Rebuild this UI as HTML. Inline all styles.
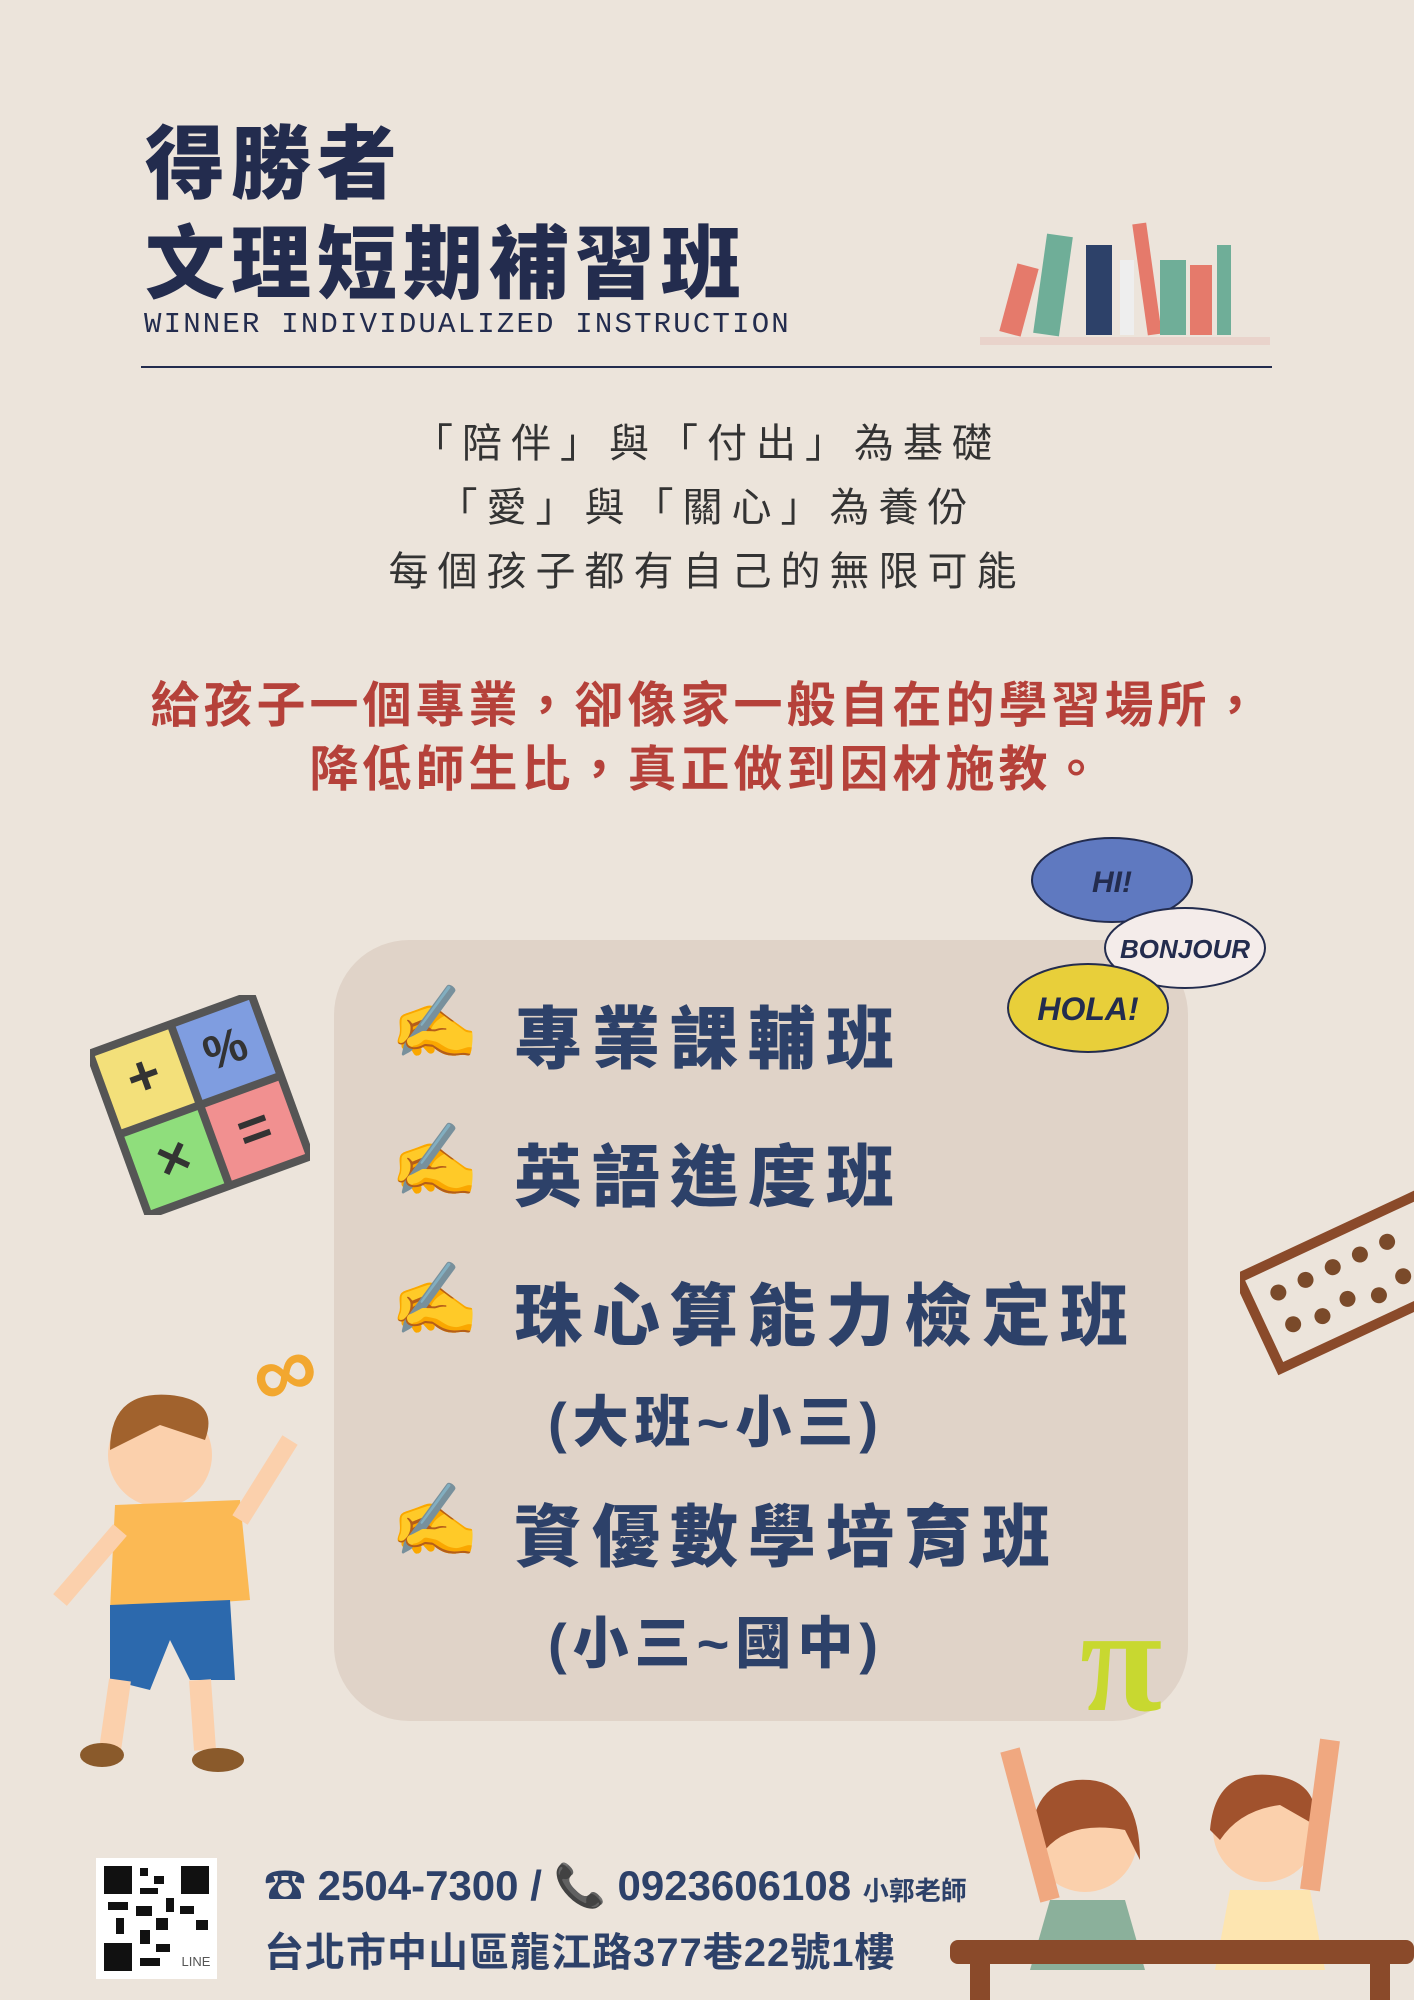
<!DOCTYPE html>
<html><head><meta charset="utf-8"><style>
*{margin:0;padding:0;box-sizing:border-box}
body{width:1414px;height:2000px;background:#ece4db;position:relative;overflow:hidden;font-family:"Liberation Sans","Noto Sans CJK TC",sans-serif}
.a{position:absolute;white-space:nowrap}
.t{color:#232c4e;font-weight:900;font-size:80px;letter-spacing:6px;left:145px}
.q{color:#333;font-size:40px;letter-spacing:9px;width:1414px;text-align:center;left:0}
.r{color:#b5413a;font-weight:700;font-size:49px;letter-spacing:4px;width:1414px;text-align:center;left:0}
.it{color:#2d4169;font-weight:900;font-size:68px;letter-spacing:10px;left:514px}
.hand{font-size:72px;left:390px}
.f{color:#2d4169;font-weight:700;font-size:40px;left:264px}
</style></head><body>
<div class="a t" style="top:100px">得勝者</div>
<div class="a t" style="top:200px">文理短期補習班</div>
<div class="a" style="left:144px;top:308px;font-family:'Liberation Mono',monospace;font-size:29px;letter-spacing:2.2px;color:#232c4e">WINNER INDIVIDUALIZED INSTRUCTION</div>
<div class="a" style="left:141px;top:366px;width:1131px;height:2px;background:#232c4e"></div>
<svg class="a" style="left:980px;top:215px" width="290" height="135">
<rect x="0" y="122" width="290" height="8" fill="#e9d3cb"/>
<rect x="28" y="50" width="22" height="70" fill="#e57a6b" transform="rotate(15 39 85)"/>
<rect x="60" y="20" width="26" height="100" fill="#6fae98" transform="rotate(8 73 70)"/>
<rect x="106" y="30" width="26" height="90" fill="#2d4169"/>
<rect x="140" y="45" width="14" height="75" fill="#eee"/>
<rect x="160" y="8" width="14" height="112" fill="#e57a6b" transform="rotate(-8 167 64)"/>
<rect x="180" y="45" width="26" height="75" fill="#6fae98"/>
<rect x="210" y="50" width="22" height="70" fill="#e57a6b"/>
<rect x="237" y="30" width="14" height="90" fill="#6fae98"/>
</svg>
<div class="a q" style="top:411px">「陪伴」與「付出」為基礎</div>
<div class="a q" style="top:475px">「愛」與「關心」為養份</div>
<div class="a q" style="top:539px">每個孩子都有自己的無限可能</div>
<div class="a r" style="top:666px">給孩子一個專業，卻像家一般自在的學習場所，</div>
<div class="a r" style="top:730px">降低師生比，真正做到因材施教。</div>
<div class="a" style="left:334px;top:940px;width:854px;height:781px;border-radius:75px;background:#e0d3c8"></div>
<div class="a hand" style="top:980px">✍️</div>
<div class="a it" style="top:984px">專業課輔班</div>
<div class="a hand" style="top:1118px">✍️</div>
<div class="a it" style="top:1122px">英語進度班</div>
<div class="a hand" style="top:1257px">✍️</div>
<div class="a it" style="top:1261px">珠心算能力檢定班</div>
<div class="a it" style="top:1378px;left:548px;font-size:56px;letter-spacing:6px">(大班~小三)</div>
<div class="a hand" style="top:1478px">✍️</div>
<div class="a it" style="top:1482px">資優數學培育班</div>
<div class="a it" style="top:1599px;left:548px;font-size:56px;letter-spacing:6px">(小三~國中)</div>
<svg class="a" style="left:1000px;top:830px" width="280" height="240">
<ellipse cx="112" cy="50" rx="80" ry="42" fill="#5f79c0" stroke="#232c4e" stroke-width="2"/>
<text x="112" y="62" font-size="30" font-weight="900" font-style="italic" fill="#232c4e" text-anchor="middle" font-family="Liberation Sans">HI!</text>
<ellipse cx="185" cy="118" rx="80" ry="40" fill="#f4ecea" stroke="#232c4e" stroke-width="2"/>
<text x="185" y="128" font-size="26" font-weight="900" font-style="italic" fill="#232c4e" text-anchor="middle" font-family="Liberation Sans">BONJOUR</text>
<ellipse cx="88" cy="178" rx="80" ry="44" fill="#e8cf3a" stroke="#232c4e" stroke-width="2"/>
<text x="88" y="190" font-size="32" font-weight="900" font-style="italic" fill="#232c4e" text-anchor="middle" font-family="Liberation Sans">HOLA!</text>
</svg>
<svg class="a" style="left:90px;top:995px" width="220" height="220">
<g transform="rotate(-20 110 110)">
<rect x="20" y="20" width="180" height="180" fill="#555"/>
<rect x="28" y="28" width="78" height="78" fill="#f3e07a"/><rect x="114" y="28" width="78" height="78" fill="#7f9de0"/>
<rect x="28" y="114" width="78" height="78" fill="#8fde7c"/><rect x="114" y="114" width="78" height="78" fill="#f19090"/>
<text x="67" y="82" font-size="56" text-anchor="middle" font-weight="900" fill="#333">+</text>
<text x="153" y="82" font-size="48" text-anchor="middle" font-weight="900" fill="#333">%</text>
<text x="67" y="170" font-size="56" text-anchor="middle" font-weight="900" fill="#333">×</text>
<text x="153" y="170" font-size="56" text-anchor="middle" font-weight="900" fill="#333">=</text></g>
</svg>
<svg class="a" style="left:1240px;top:1190px" width="174" height="190">
<g transform="rotate(-25 90 95)"><rect x="10" y="50" width="220" height="100" fill="none" stroke="#8a4a2a" stroke-width="10"/>
<g fill="#7a4a2a"><circle cx="40" cy="80" r="8"/><circle cx="70" cy="80" r="8"/><circle cx="100" cy="80" r="8"/><circle cx="130" cy="80" r="8"/><circle cx="160" cy="80" r="8"/>
<circle cx="40" cy="115" r="8"/><circle cx="70" cy="120" r="8"/><circle cx="100" cy="115" r="8"/><circle cx="130" cy="125" r="8"/><circle cx="160" cy="118" r="8"/></g></g>
</svg>
<svg class="a" style="left:40px;top:1330px" width="320" height="460">
<text x="215" y="70" font-size="90" fill="#f2a72f" font-weight="900" transform="rotate(-20 250 50)">∞</text>
<circle cx="120" cy="125" r="52" fill="#fbd0ac"/><path d="M70 120 Q70 60 130 65 Q180 70 165 110 L120 95 Z" fill="#a1622d"/>
<path d="M75 175 L200 170 L210 270 L70 280 Z" fill="#fbb954"/>
<path d="M70 275 L190 270 L195 350 L150 350 L130 310 L110 360 L70 350 Z" fill="#2c69ad"/>
<path d="M80 350 L70 420 M160 350 L165 420" stroke="#fbd0ac" stroke-width="22"/>
<ellipse cx="62" cy="425" rx="22" ry="12" fill="#8a5a2b"/><ellipse cx="178" cy="430" rx="26" ry="12" fill="#8a5a2b"/>
<path d="M200 190 L250 110 M80 200 L20 270" stroke="#fbd0ac" stroke-width="18"/>
</svg>
<svg class="a" style="left:1070px;top:1580px" width="150" height="150">
<text x="10" y="130" font-size="150" fill="#c8d830" font-weight="900" font-family="Liberation Serif">π</text>
</svg>
<svg class="a" style="left:950px;top:1720px" width="464" height="280">
<circle cx="135" cy="120" r="52" fill="#fbd0ac"/><path d="M80 130 Q80 55 140 60 Q190 65 190 140 L175 110 Q120 100 95 130 Z" fill="#a1522d"/>
<path d="M100 180 L175 180 L195 250 L80 250 Z" fill="#8bb09b"/>
<circle cx="315" cy="110" r="52" fill="#fbd0ac"/><path d="M260 110 Q265 50 320 55 Q370 60 365 105 L330 85 Q290 90 270 120 Z" fill="#a1522d"/>
<path d="M280 170 L360 170 L375 250 L265 250 Z" fill="#fde5b0"/>
<path d="M100 180 L60 30 M360 170 L380 20" stroke="#f0a880" stroke-width="20"/>
<rect x="0" y="220" width="464" height="24" rx="8" fill="#8a4a2a"/><rect x="20" y="244" width="20" height="40" fill="#8a4a2a"/><rect x="420" y="244" width="20" height="40" fill="#8a4a2a"/>
</svg>
<svg class="a" style="left:96px;top:1858px" width="121" height="121">
<rect width="121" height="121" fill="#fff"/>
<g fill="#111"><rect x="8" y="8" width="28" height="28"/><rect x="85" y="8" width="28" height="28"/><rect x="8" y="85" width="28" height="28"/>
<rect x="44" y="10" width="8" height="8"/><rect x="58" y="18" width="10" height="8"/><rect x="44" y="30" width="18" height="6"/><rect x="70" y="40" width="8" height="14"/>
<rect x="12" y="44" width="20" height="8"/><rect x="40" y="48" width="16" height="10"/><rect x="60" y="60" width="12" height="12"/><rect x="84" y="48" width="14" height="8"/>
<rect x="100" y="62" width="12" height="10"/><rect x="44" y="72" width="10" height="14"/><rect x="20" y="60" width="8" height="16"/><rect x="60" y="86" width="14" height="8"/><rect x="44" y="100" width="20" height="8"/></g>
<text x="100" y="108" font-size="13" text-anchor="middle" fill="#555">LINE</text>
</svg>
<div class="a f" style="top:1852px;font-size:42px">☎ 2504-7300 / 📞 0923606108 <span style="font-size:26px">小郭老師</span></div>
<div class="a f" style="top:1920px;letter-spacing:1px">台北市中山區龍江路377巷22號1樓</div>
</body></html>
